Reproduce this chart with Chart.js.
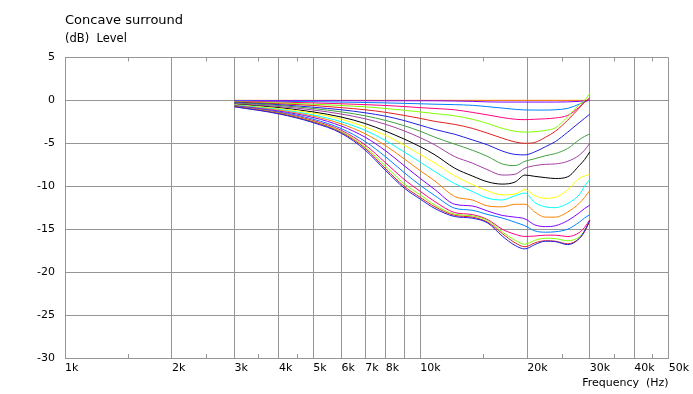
<!DOCTYPE html>
<html>
<head>
<meta charset="utf-8">
<script src="https://cdn.jsdelivr.net/npm/chart.js@4.4.0/dist/chart.umd.min.js"></script>
<style>
  html, body { margin: 0; padding: 0; background: #ffffff; }
  #wrap { width: 693px; height: 394px; }
</style>
</head>
<body>
<div id="wrap"><canvas id="chart"></canvas></div>
<script>
const freqs = [3000, 4000, 5000, 6000, 7000, 8000, 9000, 10000, 11000, 12500, 14000,
    15500, 17000, 18500, 19700, 21000, 22500, 24000, 26000, 28000, 29000, 30000];

// level (dB), one array per curve, from top to bottom
const curve01 = [0, 0, 0, 0, 0, 0, 0, 0, 0, 0, 0, 0, 0, 0, 0, 0, 0, 0, 0, 0, 0, 0];
const curve02 = [-0.03, -0.03, -0.04, -0.04, -0.05, -0.05, -0.05, -0.05, -0.05, -0.08, -0.12, -0.18, -0.2, -0.2, -0.2, -0.2, -0.2, -0.2, -0.18, -0.12, -0.06, 0];
const curve03 = [-0.08, -0.12, -0.16, -0.2, -0.25, -0.3, -0.35, -0.4, -0.45, -0.5, -0.58, -0.74, -0.9, -1.05, -1.12, -1.13, -1.13, -1.1, -0.93, -0.45, -0.15, 0];
const curve04 = [-0.12, -0.2, -0.3, -0.4, -0.5, -0.6, -0.72, -0.85, -0.95, -1.1, -1.4, -1.7, -2.0, -2.2, -2.25, -2.2, -2.15, -2.05, -1.75, -0.8, -0.2, 0.1];
const curve05 = [-0.16, -0.3, -0.45, -0.6, -0.75, -0.95, -1.15, -1.35, -1.55, -1.8, -2.2, -2.7, -3.26, -3.6, -3.7, -3.65, -3.5, -3.2, -1.9, -0.5, 0, 0.8];
const curve06 = [-0.2, -0.4, -0.6, -0.85, -1.1, -1.4, -1.75, -2.1, -2.45, -2.8, -3.26, -3.84, -4.4, -4.85, -5.0, -4.9, -4.3, -3.6, -2.3, -0.9, -0.2, 0.3];
const curve07 = [-0.25, -0.5, -0.8, -1.1, -1.45, -1.85, -2.35, -2.9, -3.4, -3.95, -4.6, -5.2, -5.9, -6.3, -6.35, -6.0, -5.4, -4.8, -3.7, -2.6, -2.1, -1.6];
const curve08 = [-0.3, -0.6, -0.95, -1.35, -1.8, -2.35, -2.95, -3.6, -4.3, -5.1, -5.8, -6.55, -7.4, -7.6, -7.1, -6.8, -6.45, -6.2, -5.6, -4.6, -4.2, -3.9];
const curve09 = [-0.38, -0.72, -1.12, -1.6, -2.15, -2.8, -3.55, -4.35, -5.2, -6.55, -7.3, -8.1, -8.7, -8.6, -7.9, -7.6, -7.45, -7.4, -7.1, -6.4, -5.8, -5.0];
const curve10 = [-0.45, -0.85, -1.35, -1.95, -2.7, -3.6, -4.5, -5.4, -6.35, -7.9, -8.8, -9.5, -9.75, -9.5, -8.7, -8.85, -9.0, -9.1, -8.9, -7.6, -6.9, -6.0];
const curve11 = [-0.5, -0.95, -1.5, -2.2, -3.1, -4.1, -5.2, -6.3, -7.3, -8.8, -9.8, -10.55, -11.0, -10.9, -10.4, -11.1, -11.4, -11.3, -10.4, -9.1, -8.8, -8.6];
const curve12 = [-0.55, -1.05, -1.7, -2.5, -3.5, -4.7, -6.0, -7.2, -8.3, -9.7, -10.6, -11.4, -11.6, -11.1, -10.8, -11.9, -12.4, -12.5, -12.0, -11.0, -10.0, -9.2];
const curve13 = [-0.6, -1.15, -1.85, -2.75, -3.9, -5.3, -6.8, -8.2, -9.4, -11.2, -11.6, -12.3, -12.4, -12.1, -12.1, -13.0, -13.6, -13.6, -13.0, -12.0, -11.3, -10.5];
const curve14 = [-0.63, -1.25, -2.0, -3.0, -4.3, -5.9, -7.6, -9.1, -10.4, -12.1, -12.3, -12.9, -13.4, -13.6, -13.8, -14.5, -14.7, -14.6, -14.0, -13.1, -12.6, -12.2];
const curve15 = [-0.66, -1.35, -2.2, -3.3, -4.8, -6.6, -8.4, -9.9, -11.1, -12.56, -12.8, -13.3, -13.7, -14.2, -14.6, -15.2, -15.35, -15.3, -15.0, -14.2, -13.7, -13.3];
const curve16 = [-0.69, -1.42, -2.35, -3.5, -5.2, -7.3, -9.2, -10.6, -11.8, -13.07, -13.3, -13.9, -15.0, -15.6, -15.85, -15.8, -15.7, -15.7, -15.86, -15.4, -14.8, -13.9];
const curve17 = [-0.71, -1.48, -2.45, -3.65, -5.45, -7.7, -9.7, -11.0, -12.2, -13.26, -13.45, -14.0, -15.3, -16.3, -16.75, -16.3, -16.05, -16.1, -16.36, -15.9, -15.2, -14.1];
const curve18 = [-0.73, -1.53, -2.52, -3.75, -5.6, -8.0, -10.0, -11.3, -12.4, -13.4, -13.6, -14.2, -15.5, -16.6, -17.05, -16.6, -16.35, -16.4, -16.7, -16.1, -15.3, -14.0];
const curve19 = [-0.75, -1.58, -2.6, -3.85, -5.8, -8.2, -10.2, -11.5, -12.6, -13.53, -13.72, -14.3, -15.8, -16.9, -17.3, -16.8, -16.4, -16.45, -16.8, -16.1, -15.2, -14.0];

const curves = [curve01, curve02, curve03, curve04, curve05, curve06, curve07, curve08, curve09, curve10,
    curve11, curve12, curve13, curve14, curve15, curve16, curve17, curve18, curve19];

const lineColors = ['#ff8000', '#8000ff', '#0080ff', '#ff0080', '#80ff00', '#e02020', '#2020e0', '#40a040',
    '#a040a0', '#000000', '#ffff00', '#00ffff', '#ff8000', '#8000ff', '#0080ff', '#ff0080', '#80ff00',
    '#e02020', '#2020e0'];

// axis ticks
const xTicks = [1000, 2000, 3000, 4000, 5000, 6000, 7000, 8000, 9000, 10000, 20000, 30000, 40000, 50000];
const xLabels = ['1k', '2k', '3k', '4k', '5k', '6k', '7k', '8k', '', '10k', '20k', '30k', '40k', '50k'];
const xMinorTicks = [1500, 2500, 3500, 4500, 15000, 25000, 35000, 45000];
const yTicks = [5, 0, -5, -10, -15, -20, -25, -30];

const gridColor = '#959595';
const fontName = '"DejaVu Sans", Verdana, sans-serif';

// short tick marks at the half steps, top and bottom edge of the plot
const minorTickPlugin = {
    id: 'minorTicks',
    afterDraw(chart) {
        const ctx = chart.ctx;
        const area = chart.chartArea;
        const xScale = chart.scales.x;
        ctx.save();
        ctx.strokeStyle = gridColor;
        ctx.lineWidth = 1;
        xMinorTicks.forEach(f => {
            const px = Math.round(xScale.getPixelForValue(f)) + 0.5;
            ctx.beginPath();
            ctx.moveTo(px, area.bottom);
            ctx.lineTo(px, area.bottom - 4);
            ctx.moveTo(px, area.top);
            ctx.lineTo(px, area.top + 4);
            ctx.stroke();
        });
        ctx.restore();
    }
};

const datasets = curves.map((values, i) => ({
    data: freqs.map((f, j) => ({ x: f, y: values[j] })),
    borderColor: lineColors[i],
    borderWidth: 1,
    pointRadius: 0,
    fill: false,
    cubicInterpolationMode: 'monotone',
    order: curves.length - i
}));

new Chart(document.getElementById('chart'), {
    type: 'line',
    data: { datasets: datasets },
    options: {
        responsive: true,
        maintainAspectRatio: false,
        animation: false,
        events: [],
        layout: { padding: { left: 0, right: 23, top: 0, bottom: 0 } },
        plugins: {
            legend: { display: false },
            tooltip: { enabled: false },
            title: {
                display: true,
                text: 'Concave surround',
                align: 'start',
                fullSize: false,
                color: '#000000',
                font: { family: fontName, size: 13, weight: 'normal' },
                padding: { top: 12.5, bottom: 4.3 }
            },
            subtitle: {
                display: true,
                text: '(dB)  Level',
                align: 'start',
                fullSize: false,
                color: '#000000',
                font: { family: fontName, size: 11.5, weight: 'normal' },
                padding: { top: 0, bottom: 11.2 }
            }
        },
        scales: {
            x: {
                type: 'logarithmic',
                min: 1000,
                max: 50000,
                afterBuildTicks: scale => {
                    scale.ticks = xTicks.map(v => ({ value: v }));
                },
                afterFit: scale => { scale.height = 36; },
                ticks: {
                    autoSkip: false,
                    maxRotation: 0,
                    align: 'start',
                    padding: 4,
                    color: '#000000',
                    font: { family: fontName, size: 11 },
                    callback: (value, index) => xLabels[index]
                },
                grid: { color: gridColor, drawTicks: false },
                border: { color: gridColor },
                title: {
                    display: true,
                    text: 'Frequency  (Hz)',
                    align: 'end',
                    color: '#000000',
                    font: { family: fontName, size: 11 },
                    padding: { top: 0, bottom: 4 }
                }
            },
            y: {
                min: -30,
                max: 5,
                afterBuildTicks: scale => {
                    scale.ticks = yTicks.map(v => ({ value: v }));
                },
                afterFit: scale => { scale.width = 65; },
                ticks: {
                    padding: 10,
                    color: '#000000',
                    font: { family: fontName, size: 11 }
                },
                grid: { color: gridColor, drawTicks: false },
                border: { color: gridColor }
            }
        }
    },
    plugins: [minorTickPlugin]
});
</script>
</body>
</html>
